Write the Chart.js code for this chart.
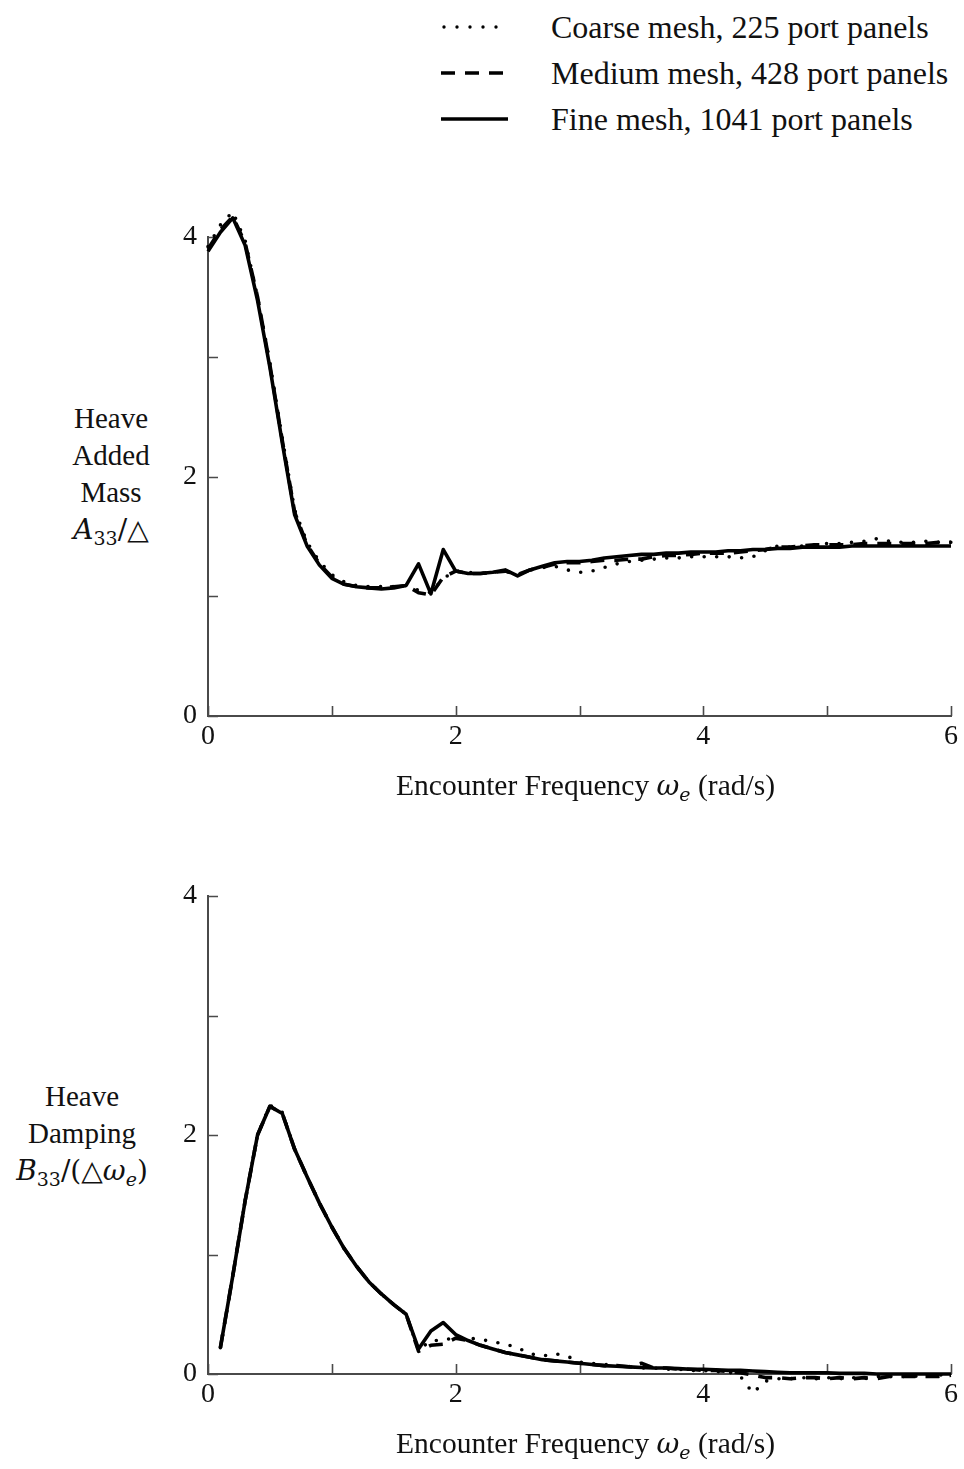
<!DOCTYPE html>
<html>
<head>
<meta charset="utf-8">
<script src="https://cdn.jsdelivr.net/npm/chart.js@4.4.1/dist/chart.umd.min.js"></script>
<style>
  body { margin: 0; background: #fff; font-family: "Liberation Serif", "Times New Roman", serif; color: #111; }
  #page { position: relative; width: 964px; height: 1469px; overflow: hidden; }
  .legend-row { position: absolute; left: 441px; height: 40px; font-size: 32px; display: flex; align-items: center; white-space: nowrap; }
  .legend-row svg { width: 67px; height: 10px; margin-right: 43px; }
  .ytitle { position: absolute; text-align: center; font-size: 29px; line-height: 37px; }
  .xtitle { position: absolute; left: 214px; width: 743px; text-align: center; font-size: 29.5px; line-height: 32px; }
  .m { font-family: "DejaVu Serif", serif; font-size: 28px; }
  .m i { font-style: italic; }
  sub { font-family: "DejaVu Serif", serif; font-size: 19px; vertical-align: -6px; line-height: 0; }
  canvas { position: absolute; left: 0; }
</style>
</head>
<body>
<div id="page">
  <div class="legend-row" style="top:7px">
    <svg viewBox="0 0 67 10"><line x1="3" y1="5" x2="67" y2="5" stroke="#000" stroke-width="3.4" stroke-dasharray="0 13" stroke-linecap="round"/></svg>
    Coarse mesh, 225 port panels
  </div>
  <div class="legend-row" style="top:53px">
    <svg viewBox="0 0 67 10"><line x1="0" y1="5" x2="67" y2="5" stroke="#000" stroke-width="3.4" stroke-dasharray="14 10"/></svg>
    Medium mesh, 428 port panels
  </div>
  <div class="legend-row" style="top:99px">
    <svg viewBox="0 0 67 10"><line x1="0" y1="5" x2="67" y2="5" stroke="#000" stroke-width="3.4"/></svg>
    Fine mesh, 1041 port panels
  </div>

  <div class="ytitle" style="left:30px; width:162px; top:400px">
    Heave<br>Added<br>Mass<br><span class="m"><i>A</i><sub>33</sub>/△</span>
  </div>
  <div class="ytitle" style="left:0px; width:164px; top:1078px">
    Heave<br>Damping<br><span class="m"><i>B</i><sub>33</sub>/(△<i>ω</i><sub><i>e</i></sub>)</span>
  </div>

  <canvas id="massChart" width="964" height="620" style="top:160px"></canvas>
  <canvas id="dampChart" width="964" height="600" style="top:840px"></canvas>

  <div class="xtitle" style="top:769px">Encounter Frequency <span class="m"><i>ω</i><sub><i>e</i></sub></span> (rad/s)</div>
  <div class="xtitle" style="top:1427px">Encounter Frequency <span class="m"><i>ω</i><sub><i>e</i></sub></span> (rad/s)</div>
</div>

<script>
// encounter frequencies (rad/s)
const freqMass = [0.0, 0.1, 0.2, 0.3, 0.4, 0.5, 0.6, 0.7, 0.8, 0.9, 1.0, 1.1, 1.2, 1.3, 1.4, 1.5, 1.6, 1.7, 1.8, 1.9,
  2.0, 2.1, 2.2, 2.3, 2.4, 2.5, 2.6, 2.7, 2.8, 2.9, 3.0, 3.1, 3.2, 3.3, 3.4, 3.5, 3.6, 3.7, 3.8, 3.9,
  4.0, 4.1, 4.2, 4.3, 4.4, 4.5, 4.6, 4.7, 4.8, 4.9, 5.0, 5.1, 5.2, 5.3, 5.4, 5.5, 5.6, 5.7, 5.8, 5.9, 6.0];
const freqDamp = [0.1, 0.2, 0.3, 0.4, 0.5, 0.6, 0.7, 0.8, 0.9, 1.0, 1.1, 1.2, 1.3, 1.4, 1.5, 1.6, 1.7, 1.8, 1.9,
  2.0, 2.1, 2.2, 2.3, 2.4, 2.5, 2.6, 2.7, 2.8, 2.9, 3.0, 3.1, 3.2, 3.3, 3.4, 3.5, 3.6, 3.7, 3.8, 3.9,
  4.0, 4.1, 4.2, 4.3, 4.4, 4.5, 4.6, 4.7, 4.8, 4.9, 5.0, 5.1, 5.2, 5.3, 5.4, 5.5, 5.6, 5.7, 5.8, 5.9, 6.0];

// heave added mass A33/displacement
const massCoarse = [3.92, 4.10, 4.21, 3.97, 3.50, 2.95, 2.32, 1.72, 1.45, 1.29, 1.18, 1.12, 1.09, 1.08, 1.08, 1.08, 1.09, 1.05, 1.03, 1.15,
  1.21, 1.20, 1.19, 1.20, 1.21, 1.18, 1.22, 1.24, 1.25, 1.22, 1.20, 1.21, 1.24, 1.27, 1.29, 1.30, 1.31, 1.32, 1.32, 1.33,
  1.33, 1.33, 1.33, 1.32, 1.33, 1.38, 1.42, 1.41, 1.42, 1.43, 1.44, 1.44, 1.45, 1.46, 1.48, 1.46, 1.45, 1.45, 1.46, 1.45, 1.45];
const massMedium = [3.90, 4.06, 4.17, 3.95, 3.50, 2.93, 2.30, 1.70, 1.43, 1.27, 1.16, 1.10, 1.08, 1.07, 1.07, 1.08, 1.09, 1.03, 1.01, 1.16,
  1.21, 1.19, 1.19, 1.20, 1.21, 1.18, 1.22, 1.24, 1.27, 1.28, 1.28, 1.29, 1.30, 1.30, 1.31, 1.31, 1.33, 1.34, 1.34, 1.35,
  1.36, 1.36, 1.36, 1.37, 1.38, 1.39, 1.41, 1.41, 1.42, 1.43, 1.43, 1.43, 1.43, 1.44, 1.44, 1.44, 1.44, 1.44, 1.44, 1.45, 1.45];
const massFine = [3.88, 4.04, 4.16, 3.93, 3.47, 2.91, 2.28, 1.68, 1.42, 1.26, 1.15, 1.10, 1.08, 1.07, 1.06, 1.07, 1.09, 1.27, 1.02, 1.39,
  1.21, 1.19, 1.19, 1.20, 1.22, 1.17, 1.22, 1.25, 1.28, 1.29, 1.29, 1.30, 1.32, 1.33, 1.34, 1.35, 1.35, 1.36, 1.36, 1.37,
  1.37, 1.37, 1.38, 1.38, 1.39, 1.39, 1.40, 1.40, 1.41, 1.41, 1.41, 1.41, 1.42, 1.42, 1.42, 1.42, 1.42, 1.42, 1.42, 1.42, 1.42];

// heave damping B33/(displacement * we)
const dampCoarse = [0.22, 0.82, 1.45, 2.00, 2.25, 2.19, 1.88, 1.65, 1.43, 1.23, 1.05, 0.90, 0.77, 0.67, 0.58, 0.50, 0.20, 0.28, 0.28,
  0.31, 0.30, 0.29, 0.27, 0.25, 0.22, 0.17, 0.15, 0.17, 0.15, 0.10, 0.09, 0.08, 0.07, 0.06, 0.05, 0.05, 0.04, 0.04, 0.03,
  0.03, 0.02, 0.02, -0.02, -0.16, -0.06, -0.04, -0.04, -0.03, -0.04, -0.03, -0.04, -0.03, -0.04, -0.02, -0.02, -0.02, -0.02, -0.01, -0.01, 0.00];
const dampMedium = [0.22, 0.82, 1.45, 2.00, 2.24, 2.18, 1.88, 1.65, 1.43, 1.23, 1.05, 0.90, 0.77, 0.67, 0.58, 0.50, 0.19, 0.24, 0.25,
  0.30, 0.28, 0.24, 0.21, 0.18, 0.16, 0.14, 0.12, 0.11, 0.10, 0.09, 0.08, 0.07, 0.07, 0.06, 0.09, 0.05, 0.05, 0.04, 0.04,
  0.03, 0.03, 0.02, 0.01, -0.01, -0.03, -0.03, -0.04, -0.03, -0.03, -0.04, -0.03, -0.04, -0.03, -0.04, -0.02, -0.02, -0.02, -0.02, -0.02, -0.01];
const dampFine = [0.22, 0.82, 1.45, 2.00, 2.24, 2.18, 1.88, 1.65, 1.43, 1.23, 1.05, 0.90, 0.77, 0.67, 0.58, 0.50, 0.21, 0.36, 0.43,
  0.33, 0.28, 0.24, 0.21, 0.18, 0.16, 0.14, 0.12, 0.11, 0.10, 0.09, 0.08, 0.07, 0.065, 0.06, 0.055, 0.05, 0.05, 0.045, 0.04,
  0.04, 0.035, 0.03, 0.03, 0.025, 0.02, 0.015, 0.01, 0.01, 0.01, 0.01, 0.005, 0.005, 0.005, 0.0, 0.0, 0.0, 0.0, 0.0, 0.0, 0.0];

const yTicks = [0, 1, 2, 3, 4];
const xTicks = [0, 1, 2, 3, 4, 5, 6];

const ink = "#000000";
const axisInk = "#4a4a4a";
const serif = "'Liberation Serif', 'Times New Roman', serif";

function toPoints(xs, ys) {
  return xs.map((x, i) => ({ x, y: ys[i] }));
}

function series(label, xs, ys, dash, cap) {
  return {
    label,
    data: toPoints(xs, ys),
    borderColor: ink,
    borderWidth: 3.6,
    borderDash: dash,
    borderCapStyle: cap,
    borderJoinStyle: "round",
    pointRadius: 0,
    tension: 0,
    clip: false
  };
}

// short tick marks pointing into the plot
const inwardTicks = {
  id: "inwardTicks",
  beforeDatasetsDraw(chart) {
    const { ctx, chartArea, scales } = chart;
    ctx.save();
    ctx.strokeStyle = axisInk;
    ctx.lineWidth = 1.6;
    ctx.beginPath();
    scales.x.ticks.forEach(t => {
      const px = Math.round(scales.x.getPixelForValue(t.value)) + 0.5;
      ctx.moveTo(px, chartArea.bottom);
      ctx.lineTo(px, chartArea.bottom - 10);
    });
    scales.y.ticks.forEach(t => {
      const py = Math.round(scales.y.getPixelForValue(t.value)) + 0.5;
      ctx.moveTo(chartArea.left, py);
      ctx.lineTo(chartArea.left + 10, py);
    });
    ctx.stroke();
    ctx.restore();
  }
};

function evenOnly(v) {
  return v % 2 === 0 ? String(v) : "";
}

function buildChart(id, xs, coarse, medium, fine, padTop, axisHeight) {
  const ctx = document.getElementById(id).getContext("2d");
  return new Chart(ctx, {
    type: "line",
    data: {
      datasets: [
        series("Coarse mesh, 225 port panels", xs, coarse, [0, 12.5], "round"),
        series("Medium mesh, 428 port panels", xs, medium, [14, 10], "butt"),
        series("Fine mesh, 1041 port panels", xs, fine, [], "butt")
      ]
    },
    options: {
      responsive: false,
      animation: false,
      devicePixelRatio: 1,
      layout: { padding: { top: padTop, right: 13, left: 0, bottom: 0 } },
      plugins: { legend: { display: false }, tooltip: { enabled: false } },
      scales: {
        x: {
          type: "linear",
          min: xTicks[0],
          max: xTicks[xTicks.length - 1],
          afterBuildTicks(scale) { scale.ticks = xTicks.map(v => ({ value: v })); },
          afterFit(scale) { scale.height = axisHeight; },
          grid: { drawOnChartArea: false, drawTicks: false },
          border: { display: true, color: axisInk, width: 2 },
          ticks: { callback: evenOnly, color: "#111", padding: 4, maxRotation: 0, font: { family: serif, size: 28 } }
        },
        y: {
          type: "linear",
          min: yTicks[0],
          max: yTicks[yTicks.length - 1],
          afterBuildTicks(scale) { scale.ticks = yTicks.map(v => ({ value: v })); },
          afterFit(scale) { scale.width = 208; },
          grid: { drawOnChartArea: false, drawTicks: false },
          border: { display: true, color: axisInk, width: 2 },
          ticks: { callback: evenOnly, color: "#111", padding: 11, font: { family: serif, size: 28 } }
        }
      }
    },
    plugins: [inwardTicks]
  });
}

buildChart("massChart", freqMass, massCoarse, massMedium, massFine, 77, 64);
buildChart("dampChart", freqDamp, dampCoarse, dampMedium, dampFine, 56, 66);
</script>
</body>
</html>
